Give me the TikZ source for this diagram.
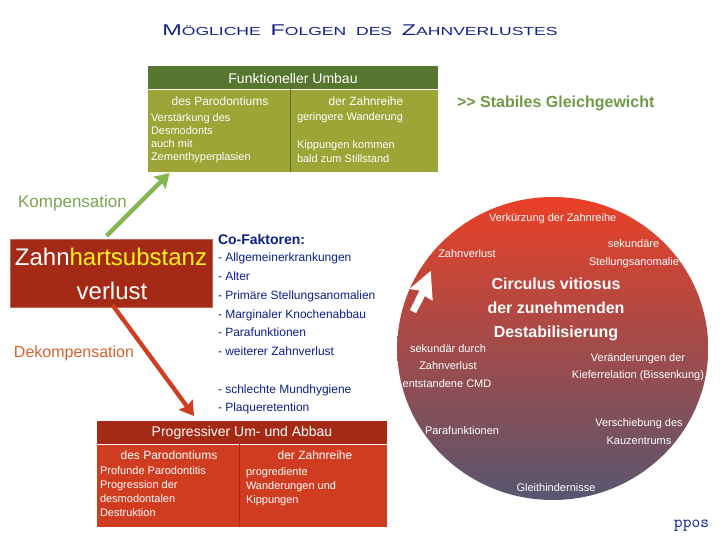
\documentclass[tikz,border=0pt]{standalone}
\usepackage{fontspec}
\setmainfont{Liberation Sans}
\newfontfamily\titlefont[FakeStretch=1.5]{Liberation Sans}
\usetikzlibrary{arrows.meta}
\definecolor{hgreen}{HTML}{56752F}
\definecolor{bgreen}{HTML}{9CA535}
\definecolor{hred}{HTML}{A42A15}
\definecolor{bred}{HTML}{D03C20}
\definecolor{navy}{HTML}{0B1F8C}
\definecolor{titleblue}{HTML}{12208C}
\definecolor{stab}{HTML}{6E9A48}
\definecolor{komp}{HTML}{7AA450}
\definecolor{dekomp}{HTML}{D5612E}
\definecolor{garrow}{HTML}{86B650}
\definecolor{rarrow}{HTML}{D03C20}
\definecolor{ctop}{HTML}{EA4026}
\definecolor{cbot}{HTML}{585670}
\newcommand{\fs}[1]{\fontsize{#1}{#1}\selectfont}
\tikzset{
  every node/.style={inner sep=0pt,outer sep=0pt},
  head/.style={text=white,font=\fs{14}},
  sub/.style={text=white,font=\fs{12},yshift=-0.5pt},
  small/.style={text=white,font=\fs{11},anchor=west,yshift=-1.5pt,text height=8pt,text depth=2.4pt},
  circ/.style={text=white,font=\fs{11},yshift=-1.5pt,text height=8pt,text depth=2.4pt},
  circb/.style={text=white,font=\bfseries\fs{16},text height=11.5pt,text depth=3.4pt},
  cof/.style={text=navy,font=\fs{12},anchor=west,yshift=-1pt,text height=8.7pt,text depth=2.6pt},
  bigarrow/.style={line width=4.3pt,-{Stealth[length=14pt,width=17pt,inset=2pt]}},
  divider/.style={line width=1pt},
}
\begin{document}
\begin{tikzpicture}[x=1pt,y=-1pt]
\useasboundingbox (0,0) rectangle (720,540);
\node[text=titleblue,font=\titlefont\fs{15.6}] (title) at (360,30) {M\fs{11.7}ÖGLICHE\ \ \fs{15.6}F\fs{11.7}OLGEN\ \ DES\ \ \fs{15.6}Z\fs{11.7}AHNVERLUSTES};
% green table
\fill[hgreen] (148,66) rectangle (438,89);
\fill[bgreen] (148,90) rectangle (438,172);
\coordinate (gt) at (290.5,89);
\coordinate (gb) at (290.5,172);
\draw[hgreen,divider] (gt) -- (gb);
\node[head] (g0) at (293,78) {Funktioneller Umbau};
\node[sub] (g1) at (220,100.5) {des Parodontiums};
\node[sub] (g2) at (366,100.5) {der Zahnreihe};
\node[small] (g3) at (151,117) {Verstärkung des};
\node[small] (g4) at (151,130) {Desmodonts};
\node[small] (g5) at (151,143) {auch mit};
\node[small] (g6) at (151,156) {Zementhyperplasien};
\node[small] (g7) at (297,116) {geringere Wanderung};
\node[small] (g8) at (297,144) {Kippungen kommen};
\node[small] (g9) at (297,158) {bald zum Stillstand};
\node[text=stab,font=\bfseries\fs{16},anchor=west,yshift=-0.5pt] (st) at (457,102.5) {{>}{>} Stabiles Gleichgewicht};
% main box
\node[fill=hred,draw=hred!70!white,line width=0.5pt,minimum width=202pt,minimum height=68pt] (main) at (111,273) {};
\node[font=\fs{24},text=white] (m1) at (111,257) {Zahn\textcolor{yellow!90!white}{hartsubstanz}};
\node[font=\fs{24},text=white] (m2) at (112,291) {verlust};
% arrows
\coordinate (ga) at (106.5,236);
\coordinate (gz) at (169.5,173);
\coordinate (ra) at (112.5,305);
\coordinate (rz) at (194,416);
\draw[bigarrow,garrow] (ga) -- (gz);
\draw[bigarrow,rarrow] (ra) -- (rz);
\node[text=komp,font=\fs{17}] (k) at (72.5,203) {Kompensation};
\node[text=dekomp,font=\fs{16}] (d) at (74,353) {Dekompensation};
% co-factors
\node[text=navy,font=\bfseries\fs{14},anchor=west] (c0) at (218,239) {Co-Faktoren:};
\node[cof] (c1) at (218,257.5) {- Allgemeinerkrankungen};
\node[cof] (c2) at (218,276) {- Alter};
\node[cof] (c3) at (218,295) {- Primäre Stellungsanomalien};
\node[cof] (c4) at (218,314) {- Marginaler Knochenabbau};
\node[cof] (c5) at (218,332.5) {- Parafunktionen};
\node[cof] (c6) at (218,351) {- weiterer Zahnverlust};
\node[cof] (c7) at (218,389) {- schlechte Mundhygiene};
\node[cof] (c8) at (218,407) {- Plaqueretention};
% red table
\fill[hred] (97,421) rectangle (387,444);
\fill[bred] (97,445) rectangle (387,527);
\coordinate (rt) at (239.5,444);
\coordinate (rb) at (239.5,527);
\draw[hred,divider] (rt) -- (rb);
\node[head] (r0) at (242,433) {Progressiver Um- und Abbau};
\node[sub] (r1) at (169,455) {des Parodontiums};
\node[sub] (r2) at (315,455) {der Zahnreihe};
\node[small] (r3) at (100,470) {Profunde Parodontitis};
\node[small] (r4) at (100,484) {Progression der};
\node[small] (r5) at (100,498) {desmodontalen};
\node[small] (r6) at (100,512) {Destruktion};
\node[small] (r7) at (246,471) {progrediente};
\node[small] (r8) at (246,485) {Wanderungen und};
\node[small] (r9) at (246,499) {Kippungen};
% circle
\shade[top color=ctop,bottom color=cbot] (552.7,348.5) ellipse [x radius=155.5,y radius=151.5];
\fill[white] (430.7,271) -- (409.3,289) -- (419.5,290.5) -- (410,310) -- (416,313.3) -- (425,296) -- (432.7,301) -- cycle;
\node[circ] (a1) at (552.7,217) {Verkürzung der Zahnreihe};
\node[circ] (a2) at (633.5,243) {sekundäre};
\node[circ] (a3) at (634,261) {Stellungsanomalie};
\node[circ] (a4) at (467,253) {Zahnverlust};
\node[circb] (a5) at (556,285.5) {Circulus vitiosus};
\node[circb] (a6) at (556,309) {der zunehmenden};
\node[circb] (a7) at (556,333) {Destabilisierung};
\node[circ] (a8) at (448,348) {sekundär durch};
\node[circ] (a9) at (448,365) {Zahnverlust};
\node[circ] (a10) at (447,383) {entstandene CMD};
\node[circ] (a11) at (638,357) {Veränderungen der};
\node[circ] (a12) at (638,374) {Kieferrelation (Bissenkung)};
\node[circ] (a13) at (462,430) {Parafunktionen};
\node[circ] (a14) at (639,422) {Verschiebung des};
\node[circ] (a15) at (639,440) {Kauzentrums};
\node[circ] (a16) at (556,487) {Gleithindernisse};
\node[text=navy,font=\ttfamily\fs{17}] (pp) at (691.5,526) {ppos};
\end{tikzpicture}
\end{document}
